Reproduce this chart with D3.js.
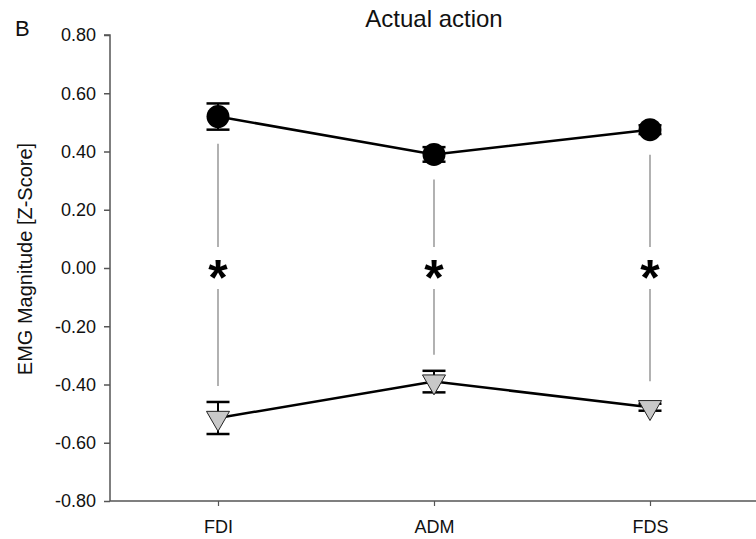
<!DOCTYPE html>
<html><head><meta charset="utf-8">
<script src="https://cdn.jsdelivr.net/npm/d3@7"></script>
<style>body{margin:0;background:#fff}svg{display:block;font-family:"Liberation Sans",Arial,sans-serif}</style>
</head><body><svg id="c" width="756" height="539"></svg>
<script>
const categories = ["FDI", "ADM", "FDS"];
const topMean = [0.52, 0.39, 0.475];
const topErr = [0.045, 0.025, 0.015];
const botMean = [-0.515, -0.39, -0.478];
const botErr = [0.055, 0.037, 0.012];
const yTicks = [-0.8, -0.6, -0.4, -0.2, 0, 0.2, 0.4, 0.6, 0.8];
const yTickLabels = ["-0.80", "-0.60", "-0.40", "-0.20", "0.00", "0.20", "0.40", "0.60", "0.80"];
const sigLabels = ["*", "*", "*"];

const svg = d3.select("#c");
const m = {l: 110, r: 0, t: 35, b: 38};
const W = 756, H = 539;
const FF = "Liberation Sans, Arial, sans-serif";
const x = d3.scalePoint().domain(categories).range([218, 650]);
const y = d3.scaleLinear().domain([-0.8, 0.8]).range([H - m.b, m.t]);

// y axis
const ya = svg.append("g").attr("transform", `translate(${m.l},0)`)
  .call(d3.axisLeft(y).tickValues(yTicks).tickFormat((d, i) => yTickLabels[i]).tickSize(6).tickPadding(8));
ya.select(".domain").attr("stroke", "#555").attr("stroke-width", 1.5).attr("d", `M-6,${y(0.8)}H0V${y(-0.8)}`);
ya.selectAll(".tick line").attr("stroke", "#555").attr("stroke-width", 1.5);
ya.selectAll(".tick text").attr("font-size", 18).attr("fill", "#111").attr("font-family", FF);

// x axis
const xa = svg.append("g").attr("transform", `translate(0,${y(-0.8)})`)
  .call(d3.axisBottom(x).tickSize(5).tickPadding(14));
xa.select(".domain").attr("stroke", "#555").attr("stroke-width", 1.5).attr("d", `M${m.l},0H${W}`);
xa.selectAll(".tick line").attr("stroke", "#555").attr("stroke-width", 1.2);
xa.selectAll(".tick text").attr("font-size", 18).attr("fill", "#111").attr("font-family", FF);

// labels
svg.append("text").attr("x", 15).attr("y", 36).attr("font-size", 22).attr("fill", "#111").attr("font-family", FF).text("B");
svg.append("text").attr("x", 434).attr("y", 27).attr("text-anchor", "middle").attr("font-size", 24).attr("fill", "#111").attr("font-family", FF).text("Actual action");
svg.append("text").attr("transform", `translate(32,259) rotate(-90)`).attr("text-anchor", "middle")
  .attr("font-size", 20).attr("fill", "#111").attr("font-family", FF).text("EMG Magnitude [Z-Score]");

// significance connector lines
const g = svg.append("g");
categories.forEach((c, i) => {
  const cx = x(c);
  const yTop = Math.max(y(topMean[i] - topErr[i]), y(topMean[i]) + 11) + 14;
  const yBot = Math.min(y(botMean[i] + botErr[i]), y(botMean[i]) - 10) - 16;
  const ys = y(0);
  g.append("line").attr("x1", cx).attr("x2", cx).attr("y1", yTop).attr("y2", ys - 21).attr("stroke", "#888").attr("stroke-width", 1.3);
  g.append("line").attr("x1", cx).attr("x2", cx).attr("y1", ys + 21).attr("y2", yBot).attr("stroke", "#888").attr("stroke-width", 1.3);
  g.append("text").attr("x", cx).attr("y", ys + 27).attr("text-anchor", "middle").attr("font-size", 50).attr("font-weight", "bold").attr("fill", "#000").attr("font-family", FF).text(sigLabels[i]);
});

// lines
const line = d3.line().x((d, i) => x(categories[i])).y(d => y(d));
svg.append("path").datum(topMean).attr("d", line).attr("fill", "none").attr("stroke", "#000").attr("stroke-width", 2.5);
svg.append("path").datum(botMean).attr("d", line).attr("fill", "none").attr("stroke", "#000").attr("stroke-width", 2.5);

// error bars
function errBars(means, errs) {
  categories.forEach((c, i) => {
    const cx = x(c), y1 = y(means[i] + errs[i]), y2 = y(means[i] - errs[i]);
    svg.append("line").attr("x1", cx).attr("x2", cx).attr("y1", y1).attr("y2", y2).attr("stroke", "#000").attr("stroke-width", 2);
    [y1, y2].forEach(yy => svg.append("line").attr("x1", cx - 11.5).attr("x2", cx + 11.5).attr("y1", yy).attr("y2", yy).attr("stroke", "#000").attr("stroke-width", 2.5));
  });
}
errBars(topMean, topErr);
errBars(botMean, botErr);

// markers
svg.selectAll("circle.m").data(topMean).enter().append("circle")
  .attr("cx", (d, i) => x(categories[i])).attr("cy", d => y(d)).attr("r", 11.5).attr("fill", "#000");
const tri = d3.symbol().type(d3.symbolTriangle).size(230);
svg.selectAll("path.t").data(botMean).enter().append("path")
  .attr("d", tri).attr("transform", (d, i) => `translate(${x(categories[i])},${y(d)}) rotate(180)`)
  .attr("fill", "#c8c8c8").attr("stroke", "#222").attr("stroke-width", 1);
</script></body></html>
